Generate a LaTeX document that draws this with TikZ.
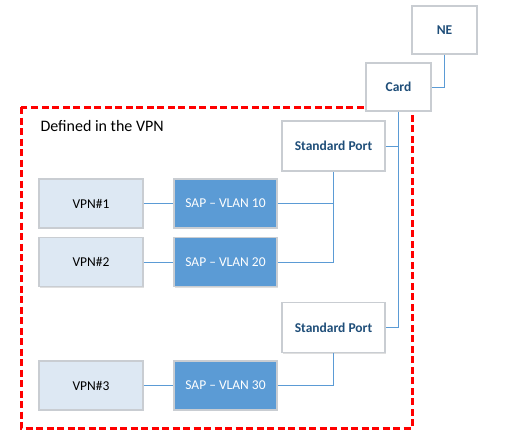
\documentclass[tikz,border=0pt]{standalone}
\usepackage{fontspec}
\setmainfont{Carlito}
\usetikzlibrary{shadows}
\definecolor{lineblue}{HTML}{5B9BD5}
\definecolor{sapfill}{HTML}{5B9BD5}
\definecolor{vpnfill}{HTML}{DDE8F3}
\definecolor{boxborder}{HTML}{C9CDD2}
\definecolor{titleblue}{HTML}{1F4E79}
\tikzset{
  x=1pt,y=-1pt,
  base/.style={draw=boxborder, line width=1.1pt, inner sep=0pt,
    drop shadow={shadow xshift=0.8pt, shadow yshift=-1pt, opacity=0.25, fill=gray}},
  vpnbox/.style={base, fill=vpnfill, minimum width=104pt, minimum height=49pt, font=\fontsize{13.5}{15}\selectfont},
  sapbox/.style={base, fill=sapfill, minimum width=103pt, minimum height=49pt, text=white, font=\fontsize{13.5}{15}\selectfont},
  whitebox/.style={base, fill=white, minimum width=65pt, minimum height=48pt, text=titleblue, font=\bfseries\fontsize{13.5}{15}\selectfont},
  portbox/.style={whitebox, minimum width=103pt, minimum height=50pt},
  conn/.style={draw=lineblue, line width=0.9pt},
}
\begin{document}
\begin{tikzpicture}
\useasboundingbox (0,0) rectangle (514,445);
% red dashed frame
\draw[red, line width=3pt, dash pattern=on 7pt off 3.5pt] (21,107) rectangle (412,428);
\node[anchor=west, font=\fontsize{16}{18}\selectfont] (title) at (37,126) {Defined in the VPN};

\node[whitebox] (ne) at (444.5,30) {NE};
\node[whitebox] (card) at (398.5,87) {Card};
\node[portbox] (sp1) at (333.5,146) {Standard Port};
\node[portbox] (sp2) at (333.5,327.5) {Standard Port};

\node[vpnbox] (v1) at (91,203.5) {VPN\#1};
\node[vpnbox] (v2) at (91,262) {VPN\#2};
\node[vpnbox] (v3) at (91,385.5) {VPN\#3};
\node[sapbox] (s1) at (225.5,203.5) {SAP -- VLAN 10};
\node[sapbox] (s2) at (225.5,262) {SAP -- VLAN 20};
\node[sapbox] (s3) at (225.5,385.5) {SAP -- VLAN 30};

\draw[conn] (ne.south) |- (card.east);
\draw[conn] (card.south) |- (sp2.east);
\draw[conn] (sp1.east) -- (sp1.east -| card.south);
\draw[conn] (v1) -- (s1);
\draw[conn] (v2) -- (s2);
\draw[conn] (v3) -- (s3);
\draw[conn] (s1.east) -| (sp1.south);
\draw[conn] (s2.east) -| (sp1.south);
\draw[conn] (s3.east) -| (sp2.south);
\end{tikzpicture}
\end{document}
